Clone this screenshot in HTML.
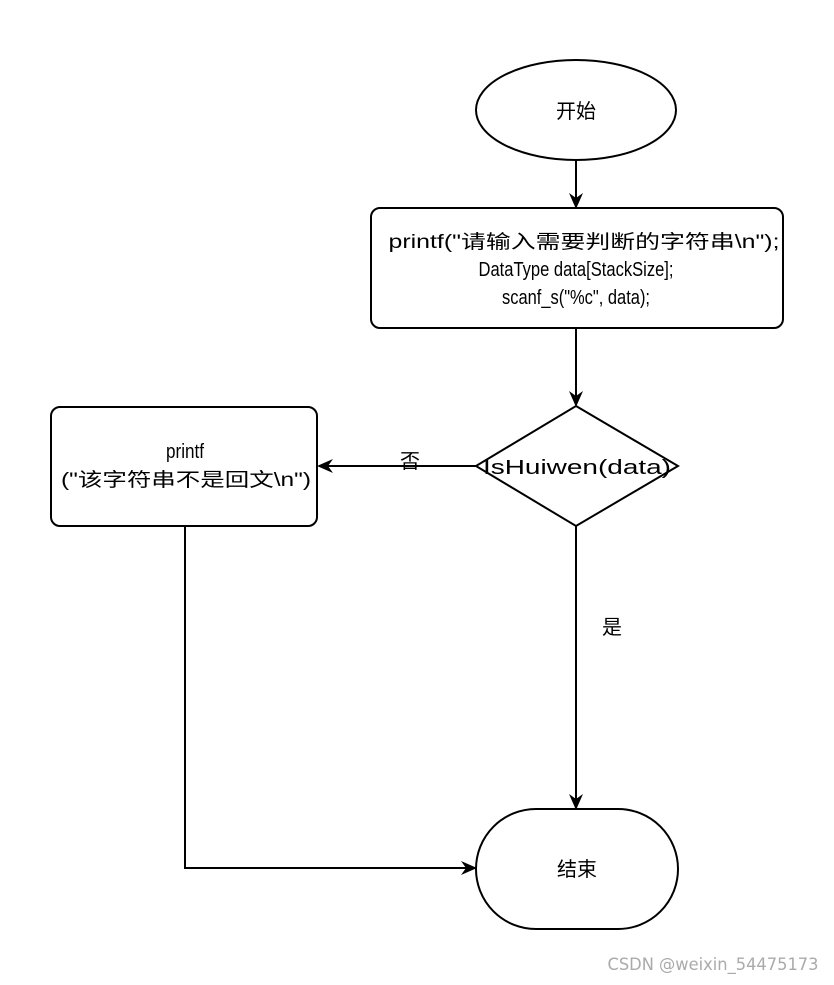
<!DOCTYPE html>
<html><head><meta charset="utf-8"><style>html,body{margin:0;padding:0;background:#fff}</style></head>
<body>
<svg width="834" height="980" viewBox="0 0 834 980" xmlns="http://www.w3.org/2000/svg" font-family="Liberation Sans, Noto Sans CJK SC, sans-serif" font-size="20" fill="#000">
<defs><marker id="a" markerWidth="16" markerHeight="16" refX="14" refY="8" orient="auto" markerUnits="userSpaceOnUse"><path d="M0,1 L16,8 L0,15 L5,8 Z" fill="#000"/></marker></defs>
<g stroke="#000" stroke-width="2" fill="none">
<ellipse cx="576" cy="110" rx="100" ry="50" fill="#fff"/>
<rect x="371" y="208" width="412" height="120" rx="9" fill="#fff"/>
<path d="M576,406 L678,466 L576,526 L476,466 Z" fill="#fff"/>
<rect x="51" y="407" width="266" height="119" rx="9" fill="#fff"/>
<rect x="476" y="809" width="202" height="120" rx="60" ry="60" fill="#fff"/>
<line x1="576" y1="160" x2="576" y2="207"  marker-end="url(#a)"/>
<line x1="576" y1="328" x2="576" y2="405" marker-end="url(#a)"/>
<line x1="476" y1="466" x2="319" y2="466" marker-end="url(#a)"/>
<line x1="576" y1="526" x2="576" y2="808" marker-end="url(#a)"/>
<polyline points="185,526 185,868 475,868" marker-end="url(#a)"/>
</g>
<text x="576" y="118" text-anchor="middle">开始</text>
<text x="584" y="248" text-anchor="middle" font-size="19" textLength="391" lengthAdjust="spacingAndGlyphs">printf("请输入需要判断的字符串\n");</text>
<text x="576" y="276" text-anchor="middle" textLength="195" lengthAdjust="spacingAndGlyphs">DataType data[StackSize];</text>
<text x="576" y="304" text-anchor="middle" textLength="148" lengthAdjust="spacingAndGlyphs">scanf_s("%c", data);</text>
<text x="577" y="474" text-anchor="middle" textLength="188" lengthAdjust="spacingAndGlyphs">IsHuiwen(data)</text>
<text x="185" y="458" text-anchor="middle" textLength="38" lengthAdjust="spacingAndGlyphs">printf</text>
<text x="186" y="486" text-anchor="middle" font-size="19" textLength="250" lengthAdjust="spacingAndGlyphs">("该字符串不是回文\n")</text>
<text x="410" y="468" text-anchor="middle">否</text>
<text x="612" y="634" text-anchor="middle">是</text>
<text x="577" y="876" text-anchor="middle">结束</text>
<text x="713" y="970" text-anchor="middle" font-size="17" fill="#aaa" font-family="DejaVu Sans, sans-serif" textLength="211" lengthAdjust="spacingAndGlyphs">CSDN @weixin_54475173</text>
</svg>
</body></html>
